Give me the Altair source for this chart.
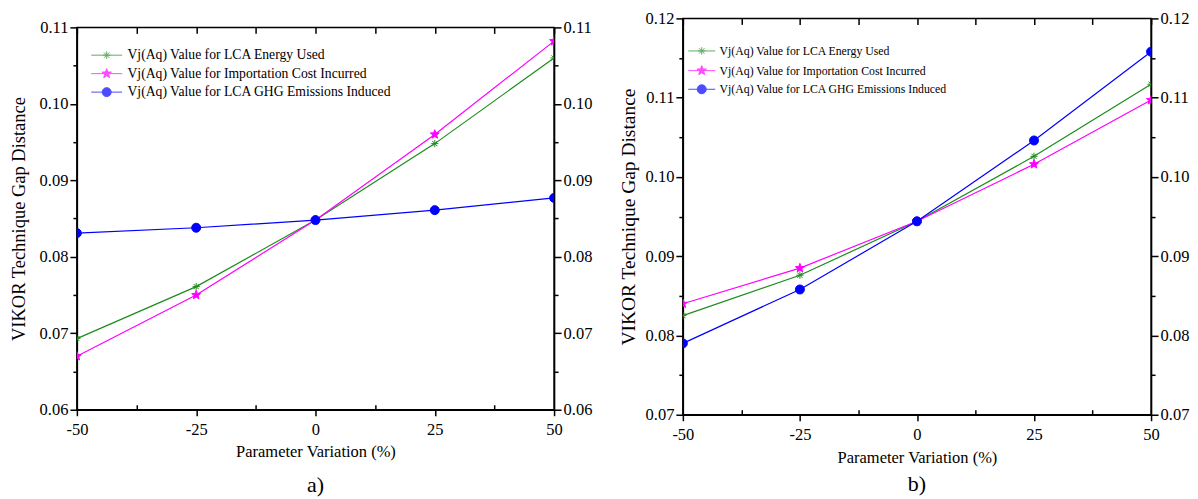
import math
import altair as alt
import pandas as pd

# ---------------- data ----------------
variation = [-50, -25, 0, 25, 50]
series_names = [
    "Vj(Aq) Value for LCA Energy Used",
    "Vj(Aq) Value for Importation Cost Incurred",
    "Vj(Aq) Value for LCA GHG Emissions Induced",
]
a_energy = [0.0693, 0.0761, 0.0848, 0.0948, 0.1060]
a_cost = [0.0670, 0.0750, 0.0848, 0.0960, 0.1082]
a_ghg = [0.0831, 0.0838, 0.0848, 0.0861, 0.0877]

b_energy = [0.0825, 0.0876, 0.0944, 0.1026, 0.1117]
b_cost = [0.0840, 0.0885, 0.0944, 0.1016, 0.1097]
b_ghg = [0.0790, 0.0858, 0.0944, 0.1046, 0.1158]

x_major = [-50, -25, 0, 25, 50]
x_minor = [-37.5, -12.5, 12.5, 37.5]
a_y_major = [0.06, 0.07, 0.08, 0.09, 0.10, 0.11]
a_y_minor = [0.065, 0.075, 0.085, 0.095, 0.105]
b_y_major = [0.07, 0.08, 0.09, 0.10, 0.11, 0.12]
b_y_minor = [0.075, 0.085, 0.095, 0.105, 0.115]

colors = ["#1c8c1c", "#ff00ff", "#0000ff"]
FONT = "Liberation Serif"


# ---------------- marker geometry ----------------
def star_path(R):
    pts = []
    for k in range(10):
        ang = -math.pi / 2 + k * math.pi / 5
        rad = R if k % 2 == 0 else R * 0.42
        pts.append((rad * math.cos(ang), rad * math.sin(ang)))
    return "M" + "L".join(f"{x:.3f},{y:.3f}" for x, y in pts) + "Z"


def asterisk_path(a):
    d = round(a * 0.72, 3)
    return (f"M{-a},0L{a},0M0,{-a}L0,{a}"
            f"M{-d},{-d}L{d},{d}M{-d},{d}L{d},{-d}")


def circle_path(R):
    return f"M{R},0A{R},{R},0,1,1,{-R},0A{R},{R},0,1,1,{R},0Z"


marker_shapes = [asterisk_path(0.8), star_path(1.05), "circle"]


def legend_shapes(half_len):
    line = f"M{-half_len},0L{half_len},0"
    return [line + asterisk_path(0.75), line + star_path(1.0), line + circle_path(0.9)]


def make_df(vals):
    rows = []
    for name, ys in zip(series_names, vals):
        for x, y in zip(variation, ys):
            rows.append({"x": x, "y": y, "series": name})
    return pd.DataFrame(rows)


def panel(df, ydom, ymaj, ymin, width, height, label, title_size,
          leg_font, leg_half, leg_x, leg_y, leg_row_pad, title_offset,
          ytitle_pad, xlab_pad, xtitle_pad):
    xs = alt.Scale(domain=[-50, 50], nice=False, zero=False)
    ys = alt.Scale(domain=ydom, nice=False, zero=False)
    col_scale = alt.Scale(domain=series_names, range=colors)
    base = alt.Chart(df)

    lines = base.mark_line(strokeWidth=1.2, clip=True).encode(
        x=alt.X("x:Q", scale=xs, axis=alt.Axis(
            orient="bottom", values=x_major, labelExpr="'' + datum.value", tickSize=6,
            labelFlush=False, labelPadding=xlab_pad, title="Parameter Variation (%)",
            titleFontSize=16.5, titlePadding=xtitle_pad, grid=False)),
        y=alt.Y("y:Q", scale=ys, axis=alt.Axis(
            orient="left", values=ymaj, format=".2f", tickSize=7, labelFlush=False,
            labelPadding=2, title="VIKOR Technique Gap Distance",
            titleFontSize=title_size, titlePadding=ytitle_pad, grid=False)),
        color=alt.Color("series:N", scale=col_scale, legend=None),
        order="x:Q",
    )

    points = base.mark_point(filled=True, size=81, strokeWidth=1, opacity=1, clip=True).encode(
        x=alt.X("x:Q", scale=xs, axis=alt.Axis(
            orient="top", values=x_major + x_minor, tickSize=6, offset=-6,
            labels=False, domain=False, grid=False, title=None)),
        y=alt.Y("y:Q", scale=ys, axis=alt.Axis(
            orient="right", values=ymaj, format=".2f", tickSize=7, labelFlush=False,
            labelPadding=2, title=None, grid=False)),
        color=alt.Color("series:N", scale=col_scale, legend=None),
        stroke=alt.Stroke("series:N", scale=col_scale, legend=None),
        shape=alt.Shape("series:N", scale=alt.Scale(domain=series_names, range=marker_shapes),
                        legend=None),
    )

    minor_a = base.mark_point(opacity=0).encode(
        x=alt.X("x:Q", scale=xs, axis=alt.Axis(
            orient="bottom", values=x_minor, tickSize=5, offset=-5,
            labels=False, domain=False, grid=False, title=None)),
        y=alt.Y("y:Q", scale=ys, axis=alt.Axis(
            orient="left", values=ymin, tickSize=4, labels=False,
            domain=False, grid=False, title=None)),
    )
    minor_b = base.mark_point(opacity=0).encode(
        x=alt.X("x:Q", scale=xs, axis=None),
        y=alt.Y("y:Q", scale=ys, axis=alt.Axis(
            orient="right", values=ymin, tickSize=4, labels=False,
            domain=False, grid=False, title=None)),
    )

    leg = alt.Legend(
        orient="none", legendX=leg_x, legendY=leg_y, title=None,
        labelFont=FONT, labelFontSize=leg_font, labelLimit=600, labelColor="black",
        labelOffset=leg_half * 5 - 1.5, symbolSize=100, symbolStrokeWidth=1,
        padding=0, rowPadding=leg_row_pad,
    )
    legend_layer = base.transform_filter("false").mark_point(filled=True, strokeWidth=1).encode(
        x=alt.X("x:Q", scale=xs, axis=None),
        y=alt.Y("y:Q", scale=ys, axis=None),
        color=alt.Color("series:N", scale=col_scale, legend=leg),
        stroke=alt.Stroke("series:N", scale=col_scale, legend=leg),
        shape=alt.Shape("series:N", scale=alt.Scale(domain=series_names,
                                                    range=legend_shapes(leg_half)),
                        legend=leg),
    )

    return alt.layer(lines, points, minor_a, minor_b, legend_layer).resolve_axis(
        x="independent", y="independent"
    ).resolve_scale(
        color="independent", stroke="independent", shape="independent"
    ).properties(
        width=width, height=height,
        title=alt.TitleParams(label, orient="bottom", anchor="middle", frame="group",
                              fontSize=22, font=FONT, fontWeight="normal",
                              offset=title_offset, color="black"),
    )


df_a = make_df([a_energy, a_cost, a_ghg])
df_b = make_df([b_energy, b_cost, b_ghg])

left = panel(df_a, [0.06, 0.11], a_y_major, a_y_minor, 478, 383, "a)", 18.5,
             13.7, 3.1, 23, 21, 3.5, 15, 11, 6, 5)
right = panel(df_b, [0.07, 0.12], b_y_major, b_y_minor, 469, 397, "b)", 19.5,
              11.8, 2.7, 13, 26.7, 4.7, 8, 7, 6, 6)

# empty strip that lowers the left panel a few pixels, as in the reference
spacer = alt.Chart(pd.DataFrame({"s": [0]})).mark_point(opacity=0, size=0).encode(
    x=alt.X("s:Q", axis=None), y=alt.Y("s:Q", axis=None)
).properties(width=478, height=1, view=alt.ViewBackground(stroke="transparent"))

left_col = alt.vconcat(spacer, left, spacing=-2)

chart = alt.hconcat(left_col, right, spacing=24).resolve_scale(
    color="independent", shape="independent", stroke="independent"
).resolve_legend(color="independent", shape="independent", stroke="independent").properties(
    padding={"left": 0, "top": 1, "right": 0, "bottom": 0}
).configure_axis(
    labelFont=FONT, titleFont=FONT, labelFontSize=16.5, labelColor="black",
    titleColor="black", titleFontWeight="normal", domainColor="black",
    domainWidth=1.5, tickColor="black", tickWidth=1.5,
).configure_view(stroke="black", strokeWidth=1.5)

chart.save("out.html", embed_options={"renderer": "svg", "actions": False})
